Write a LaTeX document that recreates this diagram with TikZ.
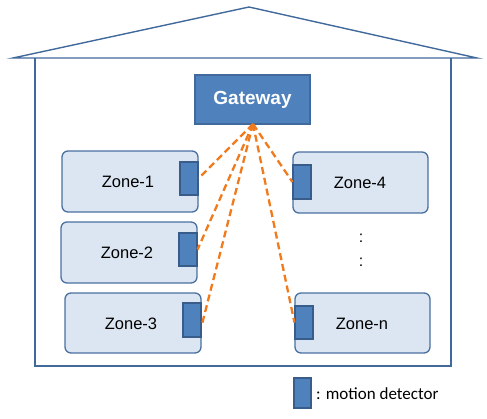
\documentclass[tikz,border=0pt]{standalone}
\usepackage{fontspec}
\setmainfont{Liberation Sans}
\newfontfamily\legendfont{Carlito}
\definecolor{houseblue}{HTML}{41699C}
\definecolor{zonefill}{HTML}{DCE6F2}
\definecolor{zoneline}{HTML}{4A70A0}
\definecolor{detfill}{HTML}{4F81BD}
\definecolor{detline}{HTML}{385D8A}
\definecolor{linkorange}{HTML}{F07A1C}
\begin{document}
\begin{tikzpicture}[x=1pt,y=-1pt,
  zonebox/.style={draw=zoneline,fill=zonefill,line width=1.3pt,rounded corners=6pt},
  detbox/.style={draw=detline,fill=detfill,line width=1.1pt},
  zonelabel/.style={font=\fontsize{16.5}{18}\selectfont,text=black},
  link/.style={draw=linkorange,line width=2.3pt,dash pattern=on 7pt off 4pt},
  wall/.style={draw=houseblue,line width=1.4pt}]
\useasboundingbox (0,0) rectangle (487,418);
% house
\draw[wall] (13,58) -- (249,7) -- (477,58) -- cycle;
\draw[wall] (35,58) -- (35,366) -- (451,366) -- (451,58);
% gateway
\node[draw=houseblue,fill=detfill,line width=1.2pt,minimum width=115pt,minimum height=49pt,inner sep=0pt,
  text=white,font=\fontsize{19}{21}\selectfont\bfseries] (gw) at (252.5,99.5) {Gateway};
% zones
\draw[zonebox] (62,151) rectangle (198,212);
\node[zonelabel] (z1) at (128,182) {Zone-1};
\draw[zonebox] (61,222) rectangle (197,283);
\node[zonelabel] (z2) at (127,253) {Zone-2};
\draw[zonebox] (65,293) rectangle (201,353);
\node[zonelabel] (z3) at (131,324) {Zone-3};
\draw[zonebox] (293,152) rectangle (428,213);
\node[zonelabel] (z4) at (360,183) {Zone-4};
\draw[zonebox] (295,293) rectangle (430,353);
\node[zonelabel] (zn) at (362,324) {Zone-n};
% detectors
\node[detbox,minimum width=18pt,minimum height=33pt,inner sep=0pt] (d1) at (189,178.5) {};
\node[detbox,minimum width=18pt,minimum height=33pt,inner sep=0pt] (d2) at (188,249.5) {};
\node[detbox,minimum width=18pt,minimum height=34pt,inner sep=0pt] (d3) at (192,320) {};
\node[detbox,minimum width=18pt,minimum height=34pt,inner sep=0pt] (d4) at (302,182) {};
\node[detbox,minimum width=18pt,minimum height=33pt,inner sep=0pt] (dn) at (304,322.5) {};
% dots
\node[font=\fontsize{16}{18}\selectfont] (dots1) at (361,238) {:};
\node[font=\fontsize{16}{18}\selectfont] (dots2) at (361,262) {:};
% links
\coordinate (hub) at (253,124);
\draw[link] (hub) -- (d1.east);
\draw[link] (hub) -- (d2.east);
\draw[link] (hub) -- ([yshift=-6pt]d3.east);
\draw[link] (hub) -- (d4.west);
\draw[link] (hub) -- (dn.west);
% legend
\node[detbox,minimum width=17pt,minimum height=30pt,inner sep=0pt] (ld) at (302.5,393) {};
\node[anchor=west,inner sep=0pt,font=\legendfont\fontsize{17}{19}\selectfont] (lt) at (316,394) {: motion detector};
\end{tikzpicture}
\end{document}
